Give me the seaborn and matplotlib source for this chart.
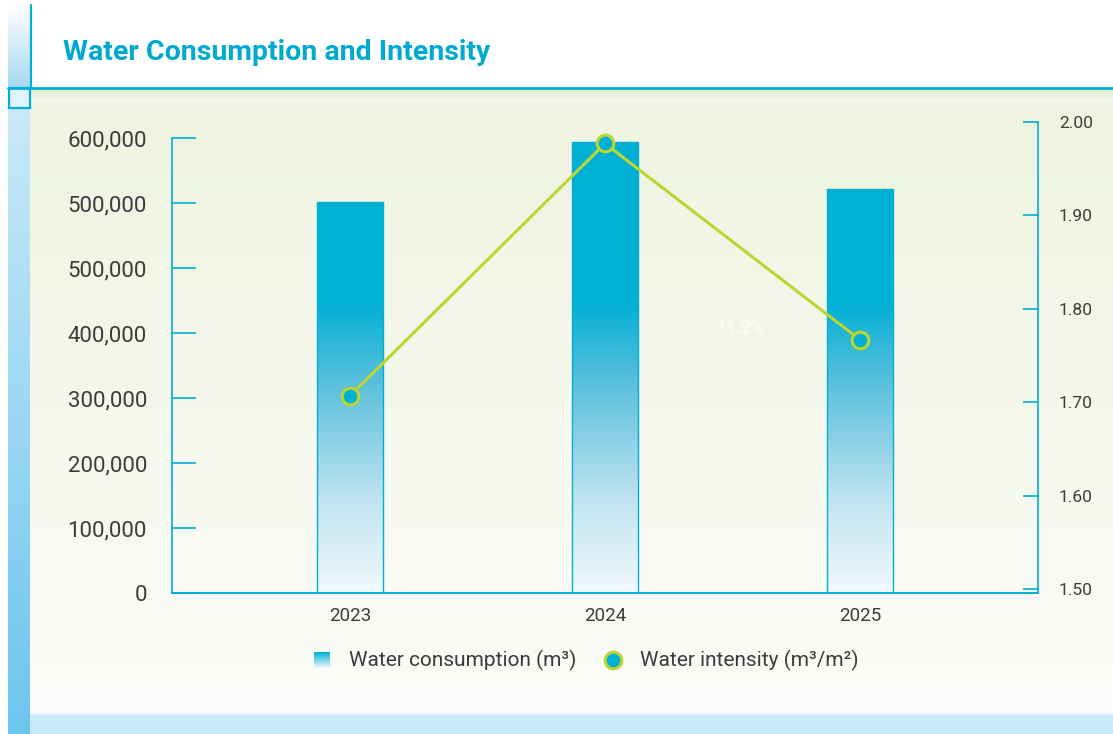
import numpy as np
import matplotlib
matplotlib.use("Agg")
import matplotlib.pyplot as plt
import seaborn as sns
from matplotlib.colors import LinearSegmentedColormap, to_rgb
from matplotlib.patches import Rectangle

years = ["2023", "2024", "2025"]
consumption = [601000, 694000, 622000]
intensity = [1.707, 1.977, 1.767]
left_ticks = [0, 100000, 200000, 300000, 400000, 500000, 600000, 700000]
left_labels = ["0", "100,000", "200,000", "300,000", "400,000", "500,000", "500,000", "600,000"]
right_ticks = [1.5, 1.6, 1.7, 1.8, 1.9, 2.0]
right_labels = ["1.50", "1.60", "1.70", "1.80", "1.90", "2.00"]

CYAN = "#00b0d4"
LIME = "#bcd631"
TXT = "#3c3c3c"

sns.set_theme(style="white")
plt.rcParams['font.family'] = ['Roboto', 'DejaVu Sans']

W, H = 1113, 734
fig = plt.figure(figsize=(W / 100, H / 100), dpi=100)
fig.patch.set_facecolor("white")

# background decoration in pixel coordinates
bg = fig.add_axes([0, 0, 1, 1], zorder=-10)
bg.set_xlim(0, W)
bg.set_ylim(H, 0)
bg.axis("off")


def vgrad(c1, c2, n=256):
    a, b = np.array(to_rgb(c1)), np.array(to_rgb(c2))
    t = np.linspace(0, 1, n)[:, None]
    return (a * (1 - t) + b * t)[:, None, :]


bg.imshow(vgrad("#e0eed0", "#f7f9f1", 32), extent=(30, W, 103, 89), aspect="auto")
bg.imshow(vgrad("#eef4e0", "#fcfcfa"), extent=(30, W, 713, 103), aspect="auto")
bg.imshow(vgrad("#ffffff", "#a6d9f1"), extent=(8, 30, 88, 5), aspect="auto")
bg.imshow(vgrad("#c9e9f8", "#6dc5ee"), extent=(8, 30, 734, 108), aspect="auto")
bg.add_patch(Rectangle((30, 713), W - 30, 21, color="#c8e9f8", lw=0))
bg.plot([31, W], [713.5, 713.5], color="#e2f4fc", lw=1.5)
bg.add_patch(Rectangle((9, 88), 21, 20, facecolor="#e2f4fb", edgecolor=CYAN, lw=1.6))
bg.plot([30.5, 30.5], [5, 88], color=CYAN, lw=1.6)
bg.plot([8, W], [87.5, 87.5], color=CYAN, lw=2)
bg.text(63, 52, "Water Consumption and Intensity", color="#00a9d0",
        fontsize=20.5, fontweight="bold", va="center", ha="left")

# main chart
ax = fig.add_axes([172 / W, (H - 593) / H, 866 / W, 471 / H])
ax.set_facecolor("none")
sns.barplot(x=years, y=consumption, ax=ax, color=CYAN, width=0.255,
            edgecolor=CYAN, linewidth=1.0, saturation=1)

ax.set_xlim(-0.698, 2.698)
ax.set_ylim(0, 724615)

# gradient fill of bars
cmap = LinearSegmentedColormap.from_list(
    "bar", [(0, "#f2f9fc"), (0.2, "#bfe3f0"), (0.45, "#58bfdc"), (0.62, CYAN), (1, CYAN)])
grad = np.linspace(0, 1, 256)[:, None]
for p in ax.patches:
    x0, w = p.get_x(), p.get_width()
    im = ax.imshow(grad, cmap=cmap, origin="lower", aspect="auto",
                   extent=(x0, x0 + w, 0, 724615), zorder=p.get_zorder() - 0.1)
    im.set_clip_path(p)
    p.set_facecolor("none")
ax.set_xlim(-0.698, 2.698)
ax.set_ylim(0, 724615)

ax.set_yticks(left_ticks)
ax.set_yticklabels(left_labels)
ax.tick_params(axis="y", direction="in", length=17, width=1.2, color=CYAN,
               pad=18, labelsize=16, labelcolor=TXT)
ax.tick_params(axis="x", length=0, pad=10, labelsize=13.5, labelcolor=TXT)
ax.set_xlabel("")
ax.set_ylabel("")
for s in ["top", "right"]:
    ax.spines[s].set_visible(False)
ax.spines["left"].set_bounds(0, 700000)
ax.spines["left"].set_color(CYAN)
ax.spines["bottom"].set_color(CYAN)
ax.spines["left"].set_linewidth(1.2)
ax.spines["bottom"].set_linewidth(1.4)

ax2 = ax.twinx()
ax2.set_facecolor("none")
sns.lineplot(x=np.arange(len(years)), y=intensity, ax=ax2, color=LIME, linewidth=2.2,
             marker="o", markersize=12, markerfacecolor=CYAN, markeredgecolor=LIME,
             markeredgewidth=2.2)
ax2.set_ylim(1.496, 2.0)
ax2.set_xlim(-0.698, 2.698)
ax2.set_yticks(right_ticks)
ax2.set_yticklabels(right_labels)
ax2.tick_params(axis="y", direction="in", length=11, width=1.2, color=CYAN,
                pad=15, labelsize=12.5, labelcolor=TXT)
ax2.set_xlabel("")
ax2.set_ylabel("")
for s in ["top", "left", "bottom"]:
    ax2.spines[s].set_visible(False)
ax2.spines["right"].set_color(CYAN)
ax2.spines["right"].set_linewidth(1.2)
ax2.grid(False)
ax.grid(False)

ax2.text(1.53, 1.78, "11.2%", color="white", alpha=0.85, fontsize=13,
         ha="center", va="center")

# legend
leg_grad = LinearSegmentedColormap.from_list("lg", [CYAN, "#f2f9fc"])
bg.imshow(np.linspace(0, 1, 64)[:, None], cmap=leg_grad, aspect="auto",
          extent=(314, 330, 668, 652))
bg.text(349, 660, "Water consumption (m³)", fontsize=15, color=TXT, va="center", ha="left")
bg.plot([613], [660], marker="o", markersize=12, markerfacecolor=CYAN,
        markeredgecolor=LIME, markeredgewidth=2.2, linestyle="none")
bg.text(640, 660, "Water intensity (m³/m²)", fontsize=15, color=TXT, va="center", ha="left")
bg.set_xlim(0, W)
bg.set_ylim(H, 0)

fig.savefig("out.png", dpi=100)
